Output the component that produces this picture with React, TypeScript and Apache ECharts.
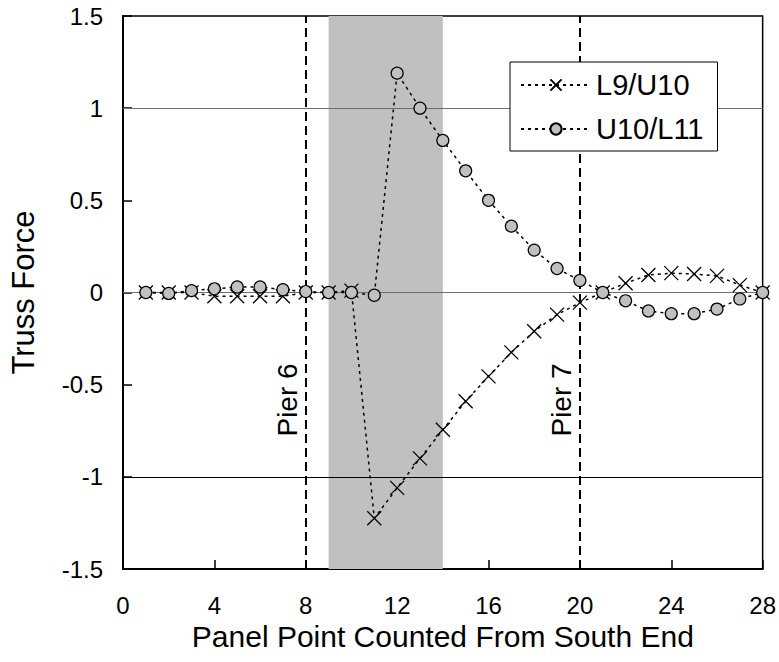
import React, { useEffect, useRef } from "react";
import * as echarts from "echarts";

const panelPoints = [1, 2, 3, 4, 5, 6, 7, 8, 9, 10, 11, 12, 13, 14, 15, 16, 17, 18, 19, 20, 21, 22, 23, 24, 25, 26, 27, 28];
const l9u10 = [0, 0, 0, -0.02, -0.02, -0.02, -0.02, 0, 0, 0.01, -1.225, -1.06, -0.9, -0.745, -0.59, -0.455, -0.325, -0.21, -0.12, -0.055, 0, 0.05, 0.095, 0.105, 0.1, 0.09, 0.04, 0];
const u10l11 = [0, -0.005, 0.01, 0.02, 0.03, 0.03, 0.015, 0.005, 0, 0, -0.015, 1.19, 1.0, 0.825, 0.66, 0.5, 0.36, 0.23, 0.13, 0.065, 0, -0.045, -0.1, -0.115, -0.115, -0.09, -0.035, 0];
const seriesNames = ["L9/U10", "U10/L11"];
const piers = [8, 20];
const pierLabels = ["Pier 6", "Pier 7"];
const pierLabelY = -0.583;
const shadedRange = [9, 14];
const refLines = [1, 0, -1];

const FONT = "Liberation Sans, Arial, sans-serif";
const CROSS = "path://M0,0L10,10M10,0L0,10";

export default function App() {
  const ref = useRef<HTMLDivElement>(null);
  useEffect(() => {
    if (!ref.current) return;
    const chart = echarts.init(ref.current, undefined, { renderer: "svg" });
    const option: any = {
      animation: false,
      backgroundColor: "#fff",
      textStyle: { fontFamily: FONT, color: "#000" },
      grid: {
        left: 122,
        top: 16,
        right: 15,
        bottom: 93,
        show: true,
        borderColor: "#000",
        borderWidth: 1.5,
        backgroundColor: "transparent",
      },
      legend: {
        orient: "vertical",
        left: 510,
        top: 62,
        data: seriesNames,
        backgroundColor: "#fff",
        borderColor: "#000",
        borderWidth: 1,
        padding: [7, 14, 6, 10],
        itemGap: 12,
        itemWidth: 70,
        itemHeight: 14,
        textStyle: { fontFamily: FONT, fontSize: 29, color: "#000", lineHeight: 32 },
        z: 10,
      },
      xAxis: {
        type: "value",
        min: 0,
        max: 28,
        interval: 4,
        name: "Panel Point Counted From South End",
        nameLocation: "middle",
        nameGap: 52,
        nameTextStyle: { fontFamily: FONT, fontSize: 30, color: "#000" },
        axisLine: { show: true, onZero: false, lineStyle: { color: "#000", width: 2 } },
        axisTick: { show: true, inside: true, length: 9, lineStyle: { color: "#000", width: 1.5 } },
        axisLabel: { fontFamily: FONT, fontSize: 24, color: "#000", margin: 24 },
        splitLine: { show: false },
      },
      yAxis: {
        type: "value",
        min: -1.5,
        max: 1.5,
        interval: 0.5,
        name: "Truss Force",
        nameLocation: "middle",
        nameGap: 84,
        nameTextStyle: { fontFamily: FONT, fontSize: 31, color: "#000" },
        axisLine: { show: true, onZero: false, lineStyle: { color: "#000", width: 2 } },
        axisTick: { show: true, inside: true, length: 9, lineStyle: { color: "#000", width: 1.5 } },
        axisLabel: { fontFamily: FONT, fontSize: 24, color: "#000", margin: 20 },
        splitLine: { show: false },
      },
      series: [
        {
          name: "shade",
          type: "line",
          data: [],
          z: 1,
          silent: true,
          markArea: {
            silent: true,
            itemStyle: { color: "#c0c0c0" },
            data: [[{ xAxis: shadedRange[0] }, { xAxis: shadedRange[1] }]],
          },
          markLine: {
            silent: true,
            symbol: "none",
            label: { show: false },
            data: refLines.map((v) => ({
              yAxis: v,
              lineStyle: { color: v === -1 ? "#000" : "#6e6e6e", width: 1.2, type: "solid" },
            })),
          },
        },
        {
          name: "piers",
          type: "line",
          data: [],
          z: 2,
          silent: true,
          markLine: {
            silent: true,
            symbol: "none",
            label: { show: false },
            lineStyle: { color: "#000", width: 2, type: [9, 5] },
            data: piers.map((p) => ({ xAxis: p })),
          },
        },
        {
          name: "pierLabels",
          type: "scatter",
          z: 3,
          silent: true,
          symbolSize: 0,
          itemStyle: { opacity: 1 },
          data: piers.map((p, i) => ({ value: [p, pierLabelY], name: pierLabels[i] })),
          label: {
            show: true,
            position: "inside",
            formatter: (p: any) => p.name,
            rotate: 90,
            align: "center",
            verticalAlign: "middle",
            offset: [0, -18],
            fontFamily: FONT,
            fontSize: 28,
            color: "#000",
            opacity: 1,
          },
        },
        {
          name: seriesNames[0],
          type: "line",
          z: 5,
          data: panelPoints.map((x, i) => [x, l9u10[i]]),
          symbol: CROSS,
          symbolSize: 14,
          showAllSymbol: true,
          lineStyle: { color: "#000", width: 1.5, type: [3, 4] },
          itemStyle: { color: "#000", borderColor: "#000", borderWidth: 1.3 },
          clip: false,
        },
        {
          name: seriesNames[1],
          type: "line",
          z: 6,
          data: panelPoints.map((x, i) => [x, u10l11[i]]),
          symbol: "circle",
          symbolSize: 12,
          showAllSymbol: true,
          lineStyle: { color: "#000", width: 1.5, type: [3, 4] },
          itemStyle: { color: "#c0c0c0", borderColor: "#000", borderWidth: 1.2 },
          clip: false,
        },
      ],
    };
    chart.setOption(option);
    return () => chart.dispose();
  }, []);
  return <div ref={ref} style={{ width: 779, height: 662, position: "absolute", left: 0, top: 0 }} />;
}
